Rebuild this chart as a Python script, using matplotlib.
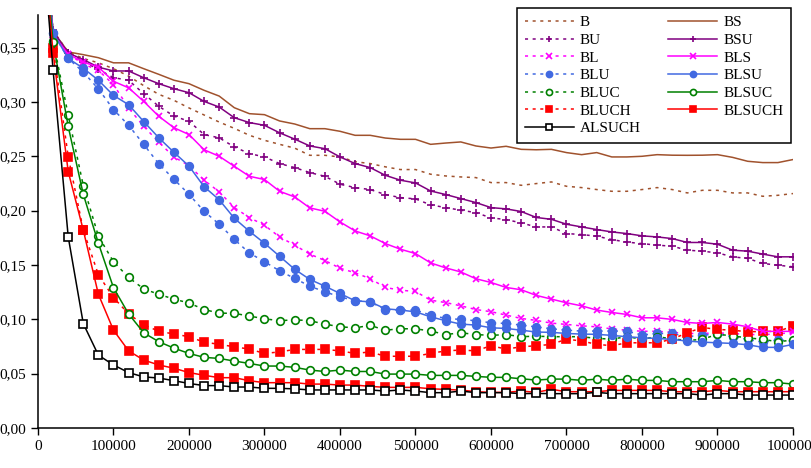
import numpy as np
import matplotlib
matplotlib.use("Agg")
import matplotlib.pyplot as plt
from matplotlib.ticker import FuncFormatter, MultipleLocator

plt.rcParams['font.family'] = ['Liberation Serif', 'DejaVu Serif']

# training set size: 0 .. 1 000 000 in steps of 20 000
sizes = np.arange(0, 1000001, 20000)

B = [0.5, 0.365, 0.346, 0.340, 0.336, 0.3306, 0.3238, 0.315, 0.307, 0.3015, 0.2945,
     0.288, 0.2815, 0.2757, 0.2693, 0.2647, 0.261, 0.2575, 0.2509, 0.2509, 0.2494,
     0.245, 0.2433, 0.2403, 0.2378, 0.2378, 0.2335, 0.2319, 0.231, 0.2304, 0.2258,
     0.2258, 0.2233, 0.2249, 0.2264, 0.2224, 0.2212, 0.2194, 0.2178, 0.2178, 0.2194,
     0.2212, 0.2194, 0.2163, 0.2187, 0.2187, 0.2163, 0.2163, 0.2132, 0.2141, 0.2157]
BS = [0.5, 0.365, 0.346, 0.3435, 0.3407, 0.336, 0.336, 0.3306, 0.3254, 0.320, 0.3168,
      0.3107, 0.3054, 0.2947, 0.2892, 0.2883, 0.2825, 0.2797, 0.2754, 0.2754, 0.273,
      0.2693, 0.2693, 0.2668, 0.2656, 0.2656, 0.261, 0.2622, 0.2632, 0.2595, 0.2576,
      0.2592, 0.2564, 0.256, 0.2564, 0.2534, 0.2515, 0.2534, 0.2494, 0.2494, 0.250,
      0.2515, 0.251, 0.2509, 0.251, 0.2515, 0.249, 0.2454, 0.2442, 0.2442, 0.247]
BU = [0.5, 0.366, 0.345, 0.337, 0.330, 0.3223, 0.320, 0.3076, 0.296, 0.287, 0.2822,
      0.270, 0.267, 0.2586, 0.2525, 0.2494, 0.2433, 0.2396, 0.235, 0.2316, 0.2243,
      0.2212, 0.2194, 0.2148, 0.212, 0.2108, 0.2053, 0.2028, 0.2004, 0.1982, 0.1933,
      0.1918, 0.1887, 0.185, 0.185, 0.1789, 0.178, 0.1765, 0.1734, 0.171, 0.1697,
      0.1682, 0.1673, 0.1636, 0.1627, 0.1611, 0.1575, 0.156, 0.1514, 0.1498, 0.1483]
BSU = [0.5, 0.365, 0.345, 0.339, 0.332, 0.3285, 0.3285, 0.3223, 0.3168, 0.3122, 0.3085,
       0.3005, 0.2953, 0.2855, 0.281, 0.2785, 0.2716, 0.2658, 0.2595, 0.257, 0.2494,
       0.2433, 0.2396, 0.2325, 0.228, 0.2255, 0.2181, 0.2148, 0.2111, 0.2074, 0.2028,
       0.2016, 0.1992, 0.1937, 0.192, 0.1875, 0.185, 0.1826, 0.1804, 0.1789, 0.1768,
       0.1758, 0.1743, 0.1707, 0.1707, 0.1691, 0.1636, 0.1627, 0.160, 0.1575, 0.1575]
BL = [0.5, 0.362, 0.344, 0.335, 0.329, 0.316, 0.2944, 0.2776, 0.263, 0.2494, 0.2414,
      0.228, 0.2173, 0.2028, 0.1936, 0.1865, 0.1758, 0.1682, 0.160, 0.1541, 0.147,
      0.1428, 0.1374, 0.1293, 0.1268, 0.1256, 0.1176, 0.1154, 0.1124, 0.109, 0.107,
      0.1039, 0.1008, 0.099, 0.0965, 0.0953, 0.094, 0.0931, 0.0912, 0.090, 0.089,
      0.089, 0.088, 0.087, 0.087, 0.0875, 0.087, 0.086, 0.086, 0.0865, 0.088]
BLS = [0.5, 0.362, 0.344, 0.3367, 0.332, 0.319, 0.313, 0.3005, 0.2868, 0.2763, 0.270,
       0.256, 0.250, 0.2408, 0.2316, 0.2286, 0.2178, 0.2126, 0.2025, 0.1994, 0.1896,
       0.1813, 0.1768, 0.1697, 0.1645, 0.1605, 0.1519, 0.1473, 0.1436, 0.1373, 0.1339,
       0.1293, 0.1272, 0.122, 0.1186, 0.1152, 0.1124, 0.1085, 0.1063, 0.1045, 0.1014,
       0.1014, 0.0999, 0.0971, 0.0962, 0.0971, 0.0956, 0.0931, 0.0889, 0.0889, 0.0889]
BLU = [0.5, 0.3636, 0.340, 0.3275, 0.312, 0.293, 0.2785, 0.261, 0.243, 0.2289, 0.215,
       0.1994, 0.1875, 0.1735, 0.161, 0.153, 0.1446, 0.1376, 0.1305, 0.1253, 0.1207,
       0.117, 0.1161, 0.109, 0.1085, 0.1085, 0.1039, 0.1008, 0.0999, 0.0987, 0.0968,
       0.0962, 0.0947, 0.093, 0.0913, 0.090, 0.0892, 0.0892, 0.0892, 0.0892, 0.0855,
       0.087, 0.087, 0.084, 0.0855, 0.0864, 0.084, 0.0815, 0.079, 0.081, 0.080]
BLSU = [0.5, 0.3636, 0.340, 0.331, 0.320, 0.306, 0.2975, 0.282, 0.267, 0.2537, 0.241,
        0.222, 0.210, 0.193, 0.181, 0.170, 0.158, 0.146, 0.1367, 0.1305, 0.1238,
        0.117, 0.1161, 0.1097, 0.1085, 0.1069, 0.1023, 0.0987, 0.0956, 0.0947, 0.0922,
        0.0916, 0.090, 0.0883, 0.088, 0.087, 0.0864, 0.0862, 0.0852, 0.084, 0.083,
        0.0824, 0.0815, 0.080, 0.079, 0.0784, 0.0778, 0.0766, 0.0742, 0.0742, 0.0769]
BLUC = [0.5, 0.356, 0.288, 0.223, 0.1765, 0.153, 0.1385, 0.128, 0.123, 0.1186, 0.115,
        0.109, 0.1057, 0.1055, 0.103, 0.1005, 0.0987, 0.0996, 0.0987, 0.0956, 0.0931,
        0.0922, 0.0944, 0.090, 0.0913, 0.0913, 0.0892, 0.086, 0.0876, 0.086, 0.0852,
        0.086, 0.084, 0.0845, 0.084, 0.084, 0.084, 0.0824, 0.0818, 0.084, 0.0818,
        0.084, 0.082, 0.0806, 0.0815, 0.0864, 0.0846, 0.083, 0.0815, 0.0794, 0.0809]
BLSUC = [0.5, 0.355, 0.2775, 0.215, 0.170, 0.129, 0.105, 0.0876, 0.0794, 0.0735, 0.0686,
         0.065, 0.064, 0.0616, 0.0594, 0.057, 0.057, 0.0558, 0.0533, 0.052, 0.0533,
         0.052, 0.052, 0.0496, 0.0496, 0.0496, 0.0484, 0.0484, 0.0484, 0.0475, 0.0466,
         0.0466, 0.0453, 0.0441, 0.045, 0.045, 0.0438, 0.045, 0.0438, 0.045, 0.0438,
         0.0438, 0.0426, 0.0426, 0.0426, 0.0438, 0.0426, 0.0426, 0.0417, 0.0417, 0.0404]
BLUCH = [0.5, 0.35, 0.2497, 0.182, 0.141, 0.12, 0.105, 0.095, 0.089, 0.0865, 0.084,
         0.079, 0.077, 0.0747, 0.0726, 0.0686, 0.070, 0.0723, 0.0723, 0.0723, 0.071,
         0.0686, 0.070, 0.066, 0.066, 0.066, 0.0686, 0.071, 0.0717, 0.071, 0.0757,
         0.0726, 0.0747, 0.0757, 0.0769, 0.0818, 0.080, 0.077, 0.0757, 0.0784, 0.0784,
         0.0784, 0.0818, 0.0876, 0.0925, 0.0907, 0.090, 0.0885, 0.0889, 0.0889, 0.0938]
BLSUCH = [0.5, 0.345, 0.236, 0.182, 0.123, 0.090, 0.071, 0.0625, 0.058, 0.055, 0.051,
          0.0485, 0.0463, 0.0463, 0.0435, 0.0417, 0.0417, 0.0417, 0.0404, 0.0404, 0.0395,
          0.0395, 0.0383, 0.0374, 0.0374, 0.0374, 0.0361, 0.0355, 0.0349, 0.0334, 0.0328,
          0.0328, 0.034, 0.0328, 0.0356, 0.0334, 0.0334, 0.0334, 0.0346, 0.0346, 0.0346,
          0.0346, 0.0334, 0.0334, 0.0334, 0.0346, 0.0334, 0.0334, 0.0334, 0.0334, 0.0334]
ALSUCH = [0.5, 0.329, 0.176, 0.096, 0.067, 0.058, 0.051, 0.047, 0.046, 0.0435, 0.041,
          0.039, 0.039, 0.0377, 0.0377, 0.0365, 0.0365, 0.036, 0.035, 0.035, 0.035,
          0.035, 0.035, 0.034, 0.035, 0.034, 0.0325, 0.0325, 0.034, 0.0325, 0.0325,
          0.0325, 0.0316, 0.0318, 0.0316, 0.0316, 0.0316, 0.0328, 0.0316, 0.0316, 0.0316,
          0.0316, 0.0316, 0.0316, 0.0303, 0.0316, 0.0316, 0.0303, 0.0303, 0.0303, 0.0303]

brown, purple, magenta = '#A0522D', '#800080', '#FF00FF'
blue, green, red = '#4169E1', '#008000', '#FF0000'
dots = (0, (2, 3))

# name, values, colour, linestyle, marker, marker face
series = [
    ('B', B, brown, dots, None, None),
    ('BU', BU, purple, dots, '+', purple),
    ('BL', BL, magenta, dots, 'x', magenta),
    ('BLU', BLU, blue, dots, 'o', blue),
    ('BLUC', BLUC, green, dots, 'o', 'white'),
    ('BLUCH', BLUCH, red, dots, 's', red),
    ('ALSUCH', ALSUCH, 'black', '-', 's', 'white'),
    ('BS', BS, brown, '-', None, None),
    ('BSU', BSU, purple, '-', '+', purple),
    ('BLS', BLS, magenta, '-', 'x', magenta),
    ('BLSU', BLSU, blue, '-', 'o', blue),
    ('BLSUC', BLSUC, green, '-', 'o', 'white'),
    ('BLSUCH', BLSUCH, red, '-', 's', red),
]
msize = {'+': 6, 'x': 5, 'o': 5.5, 's': 6}

fig = plt.figure(figsize=(8.12, 4.68), dpi=100)
ax = fig.add_axes([38 / 812, 1 - 428 / 468, 755 / 812, 413 / 468])

for name, vals, col, ls, mk, mfc in series:
    kw = {}
    if mk is not None:
        kw = dict(marker=mk, markersize=msize[mk], markerfacecolor=mfc,
                  markeredgecolor=col, markeredgewidth=1.2)
    ax.plot(sizes, vals, color=col, linestyle=ls, linewidth=1.1, label=name,
            zorder=3 if name == 'ALSUCH' else 2, **kw)

ax.set_xlim(0, 1000000)
ax.set_ylim(0, 0.38)
ax.xaxis.set_major_locator(MultipleLocator(100000))
ax.yaxis.set_major_locator(MultipleLocator(0.05))
ax.yaxis.set_major_formatter(FuncFormatter(lambda v, p: f"{v:.2f}".replace('.', ',')))
ax.xaxis.set_major_formatter(FuncFormatter(lambda v, p: f"{int(round(v))}"))
ax.tick_params(labelsize=11, length=5, width=1, direction='out')
ax.spines['top'].set_visible(False)
ax.spines['right'].set_visible(False)
for s in ('left', 'bottom'):
    ax.spines[s].set_linewidth(1.1)

leg = ax.legend(ncol=2, loc='upper right', bbox_to_anchor=(791 / 812, 1 - 8 / 468),
                bbox_transform=fig.transFigure, borderaxespad=0, fontsize=11,
                handlelength=3.2, labelspacing=0.26, columnspacing=1.8,
                fancybox=False, edgecolor='black', framealpha=1, markerscale=0.8,
                borderpad=0.5, handletextpad=0.4)
leg.get_frame().set_linewidth(1.1)
leg.set_zorder(5)

fig.savefig('out.png', dpi=100)
